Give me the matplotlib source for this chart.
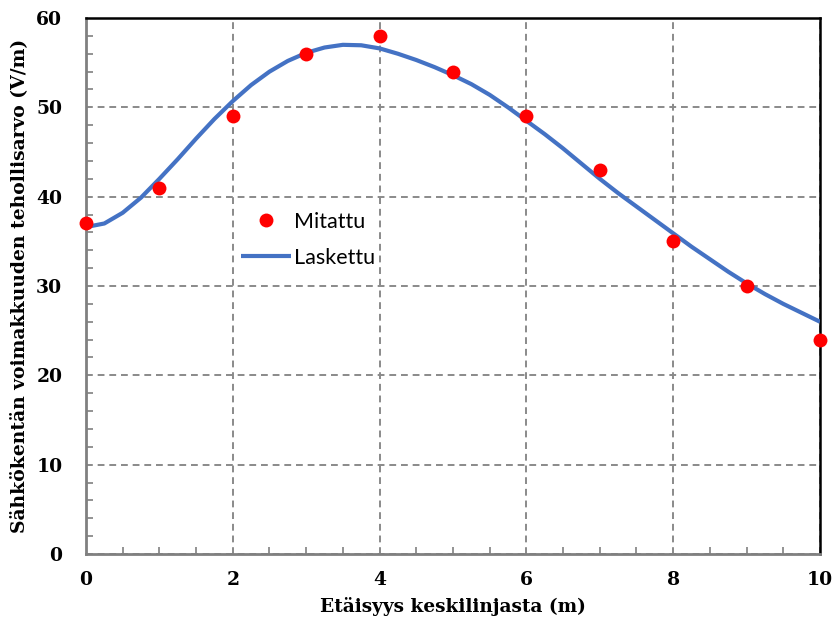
import matplotlib.pyplot as plt
from matplotlib.ticker import MultipleLocator

# Measured values (Mitattu)
x_meas = [0, 1, 2, 3, 4, 5, 6, 7, 8, 9, 10]
y_meas = [37, 41, 49, 56, 58, 54, 49, 43, 35, 30, 24]

# Calculated curve (Laskettu)
x_calc = [0, 0.25, 0.5, 0.75, 1, 1.25, 1.5, 1.75, 2, 2.25, 2.5, 2.75, 3, 3.25,
          3.5, 3.75, 4, 4.25, 4.5, 4.75, 5, 5.25, 5.5, 5.75, 6, 6.25, 6.5, 6.75,
          7, 7.25, 7.5, 7.75, 8, 8.25, 8.5, 8.75, 9, 9.25, 9.5, 9.75, 10]
y_calc = [36.6, 37.0, 38.2, 39.9, 42.0, 44.2, 46.5, 48.7, 50.7, 52.5, 54.0,
          55.2, 56.1, 56.7, 57.0, 56.95, 56.6, 56.0, 55.3, 54.5, 53.6, 52.6,
          51.4, 50.0, 48.5, 47.0, 45.4, 43.7, 42.0, 40.4, 38.9, 37.4, 35.9,
          34.4, 33.0, 31.6, 30.3, 29.1, 28.0, 27.0, 26.0]

serif = ["DejaVu Serif"]
grey = "#808080"

fig = plt.figure(figsize=(8.34, 6.26), dpi=100)
ax = fig.add_axes([0.1031, 0.115, 0.8801, 0.8562])

ax.plot(x_calc, y_calc, color="#4472C4", lw=3, label="Laskettu", zorder=3,
        solid_joinstyle="round", solid_capstyle="butt")
ax.plot(x_meas, y_meas, "o", color="#FF0000", ms=10, mew=0, label="Mitattu",
        zorder=4, clip_on=False)

ax.set_xlim(0, 10)
ax.set_ylim(0, 60)
ax.xaxis.set_major_locator(MultipleLocator(2))
ax.xaxis.set_minor_locator(MultipleLocator(0.5))
ax.yaxis.set_major_locator(MultipleLocator(10))
ax.yaxis.set_minor_locator(MultipleLocator(2))

ax.grid(True, which="major", color="#8a8a8a", ls=(0, (3.5, 2.5)), lw=1.4)
ax.set_axisbelow(True)

for side in ["left", "bottom"]:
    ax.spines[side].set_color(grey)
    ax.spines[side].set_linewidth(2)
for side in ["top", "right"]:
    ax.spines[side].set_color("black")
    ax.spines[side].set_linewidth(1.8)

ax.tick_params(which="both", direction="in", color=grey, width=1.2)
ax.tick_params(which="major", length=0)
ax.tick_params(which="minor", length=5)
ax.tick_params(axis="y", which="major", pad=17)
ax.tick_params(axis="x", which="major", pad=12)

for lab in ax.get_xticklabels() + ax.get_yticklabels():
    lab.set_fontfamily(serif)
    lab.set_fontweight("bold")
    lab.set_fontsize(13.5)

ax.set_xlabel("Etäisyys keskilinjasta (m)", family=serif, weight="bold",
              fontsize=13.3, labelpad=6)
ax.set_ylabel("Sähkökentän voimakkuuden tehollisarvo (V/m)", family=serif,
              weight="bold", fontsize=13.5, labelpad=6)

h, l = ax.get_legend_handles_labels()
ax.legend(h[::-1], l[::-1], loc="upper left", bbox_to_anchor=(0.185, 0.675),
          frameon=False, prop={"family": "Lato", "size": 15.5},
          handlelength=2.3, labelspacing=0.75, handletextpad=0.15)

plt.savefig("out.png")
